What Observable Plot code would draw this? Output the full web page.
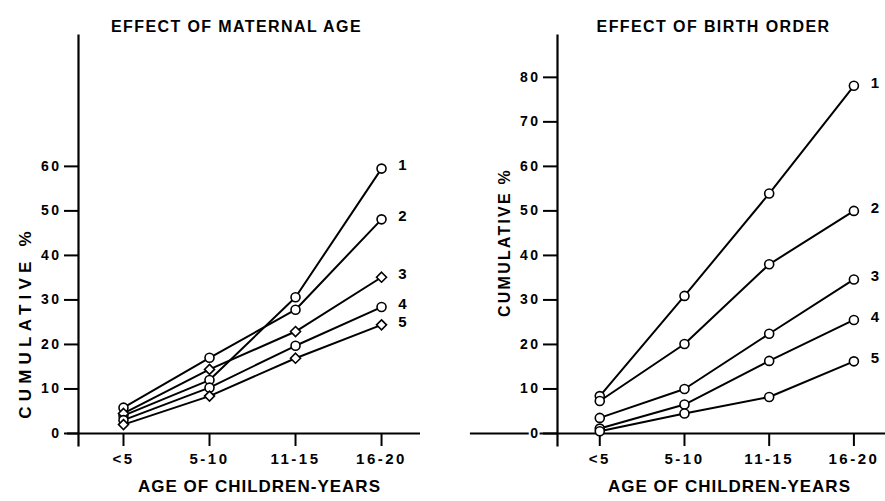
<!DOCTYPE html>
<html>
<head>
<meta charset="utf-8">
<script src="https://cdn.jsdelivr.net/npm/d3@7"></script>
<script src="https://cdn.jsdelivr.net/npm/@observablehq/plot@0.6"></script>
<style>
  html, body { margin: 0; padding: 0; background: white; }
  #chart { position: relative; width: 885px; height: 501px; overflow: hidden; }
  #chart svg { position: absolute; top: 0; background: transparent; overflow: visible; }
</style>
</head>
<body>
<div id="chart"></div>
<script>
// ---- data ----
const categories = ["<5", "5-10", "11-15", "16-20"];
const seriesNames = ["1", "2", "3", "4", "5"];

// Effect of maternal age
const maternal1 = [4.0, 12.0, 30.6, 59.5];
const maternal2 = [5.8, 17.0, 27.8, 48.1];
const maternal3 = [4.5, 14.4, 22.9, 35.1];
const maternal4 = [3.0, 10.3, 19.7, 28.4];
const maternal5 = [2.0, 8.4, 16.9, 24.4];
const maternalSymbols = ["circle", "circle", "diamond2", "circle", "diamond2"];

// Effect of birth order
const birth1 = [8.4, 30.9, 53.9, 78.1];
const birth2 = [7.3, 20.1, 38.0, 50.0];
const birth3 = [3.5, 10.0, 22.4, 34.6];
const birth4 = [1.1, 6.5, 16.3, 25.5];
const birth5 = [0.5, 4.5, 8.2, 16.2];
const birthSymbols = ["circle", "circle", "circle", "circle", "circle"];

const maternalTicks = [0, 10, 20, 30, 40, 50, 60];
const birthTicks = [0, 10, 20, 30, 40, 50, 60, 70, 80];

const titleLeft = "EFFECT OF MATERNAL AGE";
const titleRight = "EFFECT OF BIRTH ORDER";
const xLabel = "AGE OF CHILDREN-YEARS";
const yLabel = "CUMULATIVE %";

function rows(seriesValues, symbols) {
  const out = [];
  seriesValues.forEach((vals, s) => {
    vals.forEach((v, i) => out.push({series: seriesNames[s], i, v, sym: symbols[s], last: i === vals.length - 1}));
  });
  return out;
}

const FONT = "Liberation Sans, Arial, sans-serif";

function panel(o) {
  const data = rows(o.series, o.symbols);
  const svg = Plot.plot({
    width: o.width,
    height: 501,
    marginTop: 35,
    marginBottom: 56,
    marginLeft: o.marginLeft,
    marginRight: o.marginRight,
    x: {type: "linear", domain: o.xDomain},
    y: {domain: [-2.7, 89.4]},
    symbol: {domain: ["circle", "diamond2"], range: ["circle", "diamond2"]},
    style: {fontFamily: FONT, fontWeight: "bold", fontSize: "14px", color: "black", background: "transparent", overflow: "visible"},
    marks: [
      Plot.ruleY([0], {x1: o.xLine[0], x2: o.xLine[1], stroke: "black", strokeWidth: 2.2}),
      Plot.frame({anchor: "left", stroke: "black", strokeWidth: 2.2}),
      Plot.axisY({ticks: o.yTicks, tickSize: 14, tickPadding: 3, fontSize: 14, fontWeight: "bold", label: null, strokeWidth: 2, textStroke: "white", textStrokeWidth: 4}),
      Plot.axisX({ticks: [0, 1, 2, 3], tickFormat: i => categories[i], tickSize: 13, tickPadding: 7, dy: -12, fontSize: 15, fontWeight: "bold", label: null, strokeWidth: 2}),
      Plot.line(data, {x: "i", y: "v", z: "series", stroke: "black", strokeWidth: 2}),
      Plot.dot(data, {x: "i", y: "v", symbol: "sym", r: 4.5, fill: "white", stroke: "black", strokeWidth: 1.6}),
      Plot.text(data.filter(d => d.last), {x: "i", y: "v", text: "series", dx: 21, dy: -3, fontSize: 15, fontWeight: "bold"}),
      Plot.text([o.title], {frameAnchor: "top-left", dx: o.titleX - o.offset - o.marginLeft, dy: -15, textAnchor: "middle", fontSize: 16, fontWeight: "bold"}),
      Plot.text([xLabel], {frameAnchor: "bottom-left", dx: o.xLabelX - o.offset - o.marginLeft, dy: 46, textAnchor: "middle", fontSize: 17, fontWeight: "bold"}),
      Plot.text([yLabel], {frameAnchor: "top-left", dx: o.yLabelX - o.offset - o.marginLeft, dy: o.yLabelY - 35, rotate: -90, textAnchor: "middle", fontSize: o.yLabelSize, fontWeight: "bold"})
    ]
  });
  svg.style.left = o.offset + "px";
  // letter spacing by text role
  const tickStrings = new Set(o.yTicks.map(String).concat(categories));
  d3.select(svg).selectAll("text").each(function() {
    const t = this.textContent;
    let ls = null;
    if (t === o.title) ls = 1.4;
    else if (t === xLabel) ls = 1;
    else if (t === yLabel) ls = o.yLabelSpacing;
    else if (tickStrings.has(t)) ls = 2.5;
    if (ls !== null) this.setAttribute("letter-spacing", ls);
  });
  return svg;
}

const chart = document.getElementById("chart");
chart.appendChild(panel({
  offset: 0, width: 440, marginLeft: 78, marginRight: 20,
  xDomain: [-0.523, 3.453], xLine: [-0.651, 3.453],
  series: [maternal1, maternal2, maternal3, maternal4, maternal5],
  symbols: maternalSymbols, yTicks: maternalTicks,
  title: titleLeft, titleX: 236, xLabelX: 259,
  yLabelX: 18, yLabelY: 322, yLabelSize: 17, yLabelSpacing: 5.2
}));
chart.appendChild(panel({
  offset: 440, width: 445, marginLeft: 117, marginRight: 0,
  xDomain: [-0.499, 3.373], xLine: [-1.527, 3.373],
  series: [birth1, birth2, birth3, birth4, birth5],
  symbols: birthSymbols, yTicks: birthTicks,
  title: titleRight, titleX: 713, xLabelX: 729,
  yLabelX: 498, yLabelY: 242, yLabelSize: 16, yLabelSpacing: 2.2
}));
</script>
</body>
</html>
